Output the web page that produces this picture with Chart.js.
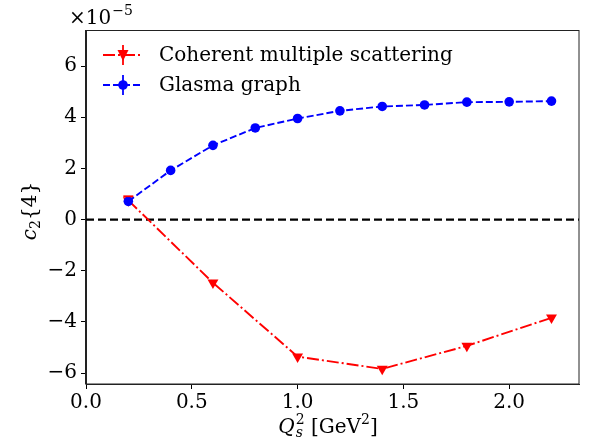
<!DOCTYPE html>
<html>
<head>
<meta charset="utf-8">
<script src="https://cdn.jsdelivr.net/npm/chart.js@4.4.0/dist/chart.umd.min.js"></script>
<style>
html, body { margin: 0; padding: 0; background: #fff; }
</style>
</head>
<body>
<canvas id="c2chart" width="589" height="441"></canvas>
<script>
// values of c2{4} are in units of 1e-5
var glasmaX = [0.2, 0.4, 0.6, 0.8, 1.0, 1.2, 1.4, 1.6, 1.8, 2.0, 2.2];
var glasmaY = [0.71, 1.92, 2.90, 3.58, 3.95, 4.25, 4.42, 4.48, 4.59, 4.60, 4.63];
var coherentX = [0.2, 0.6, 1.0, 1.4, 1.8, 2.2];
var coherentY = [0.75, -2.47, -5.36, -5.84, -4.94, -3.84];
var coherentErr = [0.16, 0, 0, 0, 0, 0];
var seriesNames = ["Coherent multiple scattering", "Glasma graph"];
var xTicks = [0.0, 0.5, 1.0, 1.5, 2.0];
var yTicks = [-6, -4, -2, 0, 2, 4, 6];
var xRange = [0, 2.33];
var yRange = [-6.43, 7.41];

var FONT = "DejaVu Serif";
var BIG = "20px '" + FONT + "'";
var SMALL = "14px '" + FONT + "'";
var redDash = [12, 3, 2, 3];
var blueDash = [7, 3];

function pts(xs, ys) {
    return xs.map(function (x, i) { return { x: x, y: ys[i] }; });
}

// frame, error bars, legend, axis labels
var extras = {
    id: "extras",
    afterDatasetsDraw: function (chart) {
        var ctx = chart.ctx;
        var xs = chart.scales.x, ys = chart.scales.y;
        ctx.save();
        // error bar caps for coherent series
        ctx.strokeStyle = "red";
        ctx.lineWidth = 1.8;
        ctx.setLineDash([]);
        coherentX.forEach(function (x, i) {
            if (!coherentErr[i]) return;
            var px = xs.getPixelForValue(x);
            var y1 = ys.getPixelForValue(coherentY[i] + coherentErr[i]);
            ctx.beginPath();
            ctx.moveTo(px - 5, y1); ctx.lineTo(px + 5, y1);
            ctx.stroke();
        });
        ctx.restore();
    },
    afterDraw: function (chart) {
        var ctx = chart.ctx;
        var a = chart.chartArea;
        ctx.save();
        // frame
        ctx.strokeStyle = "#222";
        ctx.lineWidth = 1;
        ctx.setLineDash([]);
        ctx.strokeRect(Math.round(a.left) - 0.5, Math.round(a.top) + 0.5,
            Math.round(a.right - a.left) + 0.5, Math.round(a.bottom - a.top) - 0.5);

        // legend
        var lx0 = 103, lx1 = 143, lmid = 123;
        var rows = [55, 85];
        var colors = ["red", "blue"];
        var dashes = [redDash, blueDash];
        for (var i = 0; i < 2; i++) {
            var y = rows[i];
            ctx.strokeStyle = colors[i];
            ctx.fillStyle = colors[i];
            ctx.lineWidth = 1.8;
            ctx.setLineDash(dashes[i]);
            ctx.beginPath();
            ctx.moveTo(lx0, y); ctx.lineTo(lx1, y);
            ctx.stroke();
            ctx.setLineDash([]);
            ctx.beginPath();
            ctx.moveTo(lmid, y - 10); ctx.lineTo(lmid, y + 10);
            ctx.stroke();
            ctx.beginPath();
            if (i === 0) {
                ctx.moveTo(lmid - 5.5, y - 5); ctx.lineTo(lmid + 5.5, y - 5); ctx.lineTo(lmid, y + 6);
                ctx.closePath();
            } else {
                ctx.arc(lmid, y, 4.8, 0, Math.PI * 2);
            }
            ctx.fill();
            ctx.fillStyle = "#000";
            ctx.font = BIG;
            ctx.textBaseline = "middle";
            ctx.textAlign = "left";
            ctx.fillText(seriesNames[i], 159, y + 1);
        }

        ctx.fillStyle = "#000";
        ctx.textBaseline = "alphabetic";
        ctx.textAlign = "left";

        // offset text x10^-5
        ctx.font = BIG;
        ctx.fillText("\u00d710", 69, 24);
        var w = ctx.measureText("\u00d710").width;
        ctx.font = SMALL;
        ctx.fillText("\u22125", 69 + w + 1, 15);

        // x label: Q_s^2 [GeV^2]
        ctx.font = "italic " + BIG;
        var qw = ctx.measureText("Q").width;
        ctx.font = SMALL;
        var sw = Math.max(ctx.measureText("2").width, ctx.measureText("s").width);
        ctx.font = BIG;
        var gw = ctx.measureText(" [GeV").width;
        ctx.font = SMALL;
        var tw = ctx.measureText("2").width;
        ctx.font = BIG;
        var bw = ctx.measureText("]").width;
        var total = qw + 1 + sw + gw + tw + bw;
        var x = 328 - total / 2, base = 433;
        ctx.font = "italic " + BIG;
        ctx.fillText("Q", x, base);
        x += qw + 1;
        ctx.font = SMALL;
        ctx.fillText("2", x, base - 9);
        ctx.font = "italic " + SMALL;
        ctx.fillText("s", x, base + 4);
        x += sw;
        ctx.font = BIG;
        ctx.fillText(" [GeV", x, base);
        x += gw;
        ctx.font = SMALL;
        ctx.fillText("2", x, base - 9);
        x += tw;
        ctx.font = BIG;
        ctx.fillText("]", x, base);

        // y label: c_2{4}
        ctx.save();
        ctx.translate(36, 211);
        ctx.rotate(-Math.PI / 2);
        ctx.font = "italic " + BIG;
        var cw = ctx.measureText("c").width;
        ctx.font = SMALL;
        var two = ctx.measureText("2").width;
        ctx.font = BIG;
        var rest = ctx.measureText("{4}").width;
        var yx = -(cw + two + rest) / 2;
        ctx.font = "italic " + BIG;
        ctx.fillText("c", yx, 0);
        yx += cw;
        ctx.font = SMALL;
        ctx.fillText("2", yx, 4);
        yx += two;
        ctx.font = BIG;
        ctx.fillText("{4}", yx, 0);
        ctx.restore();

        ctx.restore();
    }
};

new Chart(document.getElementById("c2chart"), {
    type: "scatter",
    data: {
        datasets: [{
            label: seriesNames[1],
            data: pts(glasmaX, glasmaY),
            showLine: true,
            borderColor: "blue",
            backgroundColor: "blue",
            borderWidth: 1.9,
            borderDash: blueDash,
            pointRadius: 4.8,
            pointBorderWidth: 0,
            pointStyle: "circle"
        }, {
            label: seriesNames[0],
            data: pts(coherentX, coherentY),
            showLine: true,
            borderColor: "red",
            backgroundColor: "red",
            borderWidth: 1.9,
            borderDash: redDash,
            pointRadius: 6.3,
            pointBorderWidth: 0,
            pointStyle: "triangle",
            pointRotation: 180
        }, {
            label: "zero",
            data: pts(xRange, [0, 0]),
            showLine: true,
            borderColor: "#000",
            borderWidth: 2.3,
            borderDash: [8, 4],
            pointRadius: 0
        }]
    },
    options: {
        responsive: false,
        animation: false,
        layout: { padding: { left: 0, right: 10, top: 30, bottom: 0 } },
        plugins: {
            legend: { display: false },
            tooltip: { enabled: false }
        },
        scales: {
            x: {
                type: "linear",
                min: xRange[0],
                max: xRange[1],
                afterBuildTicks: function (s) { s.ticks = xTicks.map(function (v) { return { value: v }; }); },
                afterFit: function (s) { s.height = 57; },
                grid: { display: true, drawOnChartArea: false, drawTicks: true, tickLength: 5, color: "#000" },
                border: { display: true, color: "#222", width: 1 },
                ticks: {
                    color: "#000",
                    padding: 2,
                    maxRotation: 0,
                    font: { family: FONT, size: 20 },
                    callback: function (v) { return v.toFixed(1); }
                }
            },
            y: {
                type: "linear",
                min: yRange[0],
                max: yRange[1],
                afterBuildTicks: function (s) { s.ticks = yTicks.map(function (v) { return { value: v }; }); },
                afterFit: function (s) { s.width = 86; },
                grid: { display: true, drawOnChartArea: false, drawTicks: true, tickLength: 5, color: "#000" },
                border: { display: true, color: "#222", width: 1 },
                ticks: {
                    color: "#000",
                    padding: 4,
                    font: { family: FONT, size: 20 },
                    callback: function (v) { return v < 0 ? "\u2212" + Math.abs(v) : "" + v; }
                }
            }
        }
    },
    plugins: [extras]
});
</script>
</body>
</html>
